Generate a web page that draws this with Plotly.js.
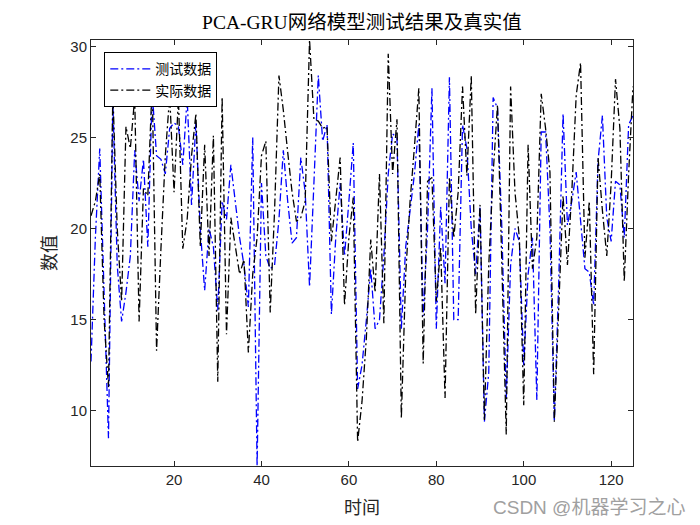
<!DOCTYPE html>
<html>
<head>
<meta charset="utf-8">
<script src="https://cdn.plot.ly/plotly-3.0.1.min.js"></script>
<style>html,body{margin:0;padding:0;background:#fff;}#chart{width:700px;height:525px;}</style>
</head>
<body>
<div id="chart"></div>
<script>
// sample index 1..125
var seriesNames = ['测试数据', '实际数据'];
var testData = [
  12.7, 19.5, 24.4, 16.0, 8.5, 27.0, 18.0, 14.9, 16.5, 18.5,
  24.3, 21.5, 23.8, 19.0, 27.5, 24.0, 23.8, 23.0, 25.5, 25.8,
  25.6, 23.5, 27.2, 21.3, 25.8, 20.0, 16.6, 20.0, 19.0, 15.5,
  21.5, 20.5, 23.5, 21.5, 19.5, 18.0, 15.7, 25.0, 6.97, 22.5,
  18.5, 17.8, 18.0, 20.5, 24.3, 21.5, 19.2, 19.5, 23.9, 22.0,
  16.8, 22.5, 28.4, 24.8, 25.7, 15.3, 19.5, 22.5, 18.5, 21.5,
  24.7, 11.2, 12.5, 15.0, 17.8, 14.5, 15.0, 18.5, 23.0, 25.2,
  25.0, 14.5, 19.0, 21.0, 23.0, 25.7, 15.2, 20.0, 27.7, 14.5,
  21.2, 17.0, 28.3, 15.0, 15.0, 25.7, 24.4, 20.0, 17.5, 21.2,
  9.4, 12.1, 27.2, 26.6, 20.0, 10.7, 18.0, 20.0, 19.3, 12.5,
  17.5, 19.5, 10.6, 25.3, 25.3, 20.0, 9.4, 17.0, 26.3, 20.2,
  21.5, 23.1, 20.5, 17.8, 17.6, 15.8, 23.7, 26.2, 20.6, 19.3,
  22.6, 22.4, 19.5, 25.7, 26.2
];
var actualData = [
  20.7, 21.5, 23.0, 15.0, 11.3, 27.5, 20.0, 16.0, 25.6, 24.4,
  27.2, 14.9, 22.2, 21.8, 28.0, 13.3, 18.9, 24.0, 27.3, 22.0,
  27.2, 18.9, 20.5, 24.0, 26.3, 19.0, 24.6, 18.5, 25.1, 11.6,
  27.2, 14.2, 20.6, 19.0, 17.5, 18.3, 13.2, 17.5, 19.5, 24.0,
  24.8, 15.4, 21.0, 28.4, 26.5, 24.2, 22.0, 20.4, 20.6, 21.5,
  30.35, 26.0, 25.9, 25.5, 25.6, 19.3, 21.5, 23.9, 15.8, 19.5,
  21.7, 8.3, 10.5, 14.0, 19.4, 16.5, 23.0, 14.8, 29.6, 23.0,
  26.0, 9.6, 17.5, 21.5, 24.5, 27.7, 12.6, 22.6, 22.8, 16.0,
  19.0, 10.7, 22.8, 19.5, 22.0, 27.8, 22.9, 28.4, 15.3, 21.3,
  9.5, 18.0, 23.0, 26.8, 18.0, 8.7, 27.8, 22.0, 19.5, 10.3,
  24.6, 17.8, 19.5, 27.4, 25.5, 23.1, 9.4, 16.0, 21.8, 18.0,
  22.0, 27.3, 29.1, 18.4, 21.5, 12.0, 23.9, 21.0, 18.5, 22.5,
  28.2, 25.5, 17.1, 23.0, 27.8
];
var xTicks = [20, 40, 60, 80, 100, 120];
var yTicks = [10, 15, 20, 25, 30];
var titleText = 'PCA-GRU网络模型测试结果及真实值';
var xLabel = '时间';
var yLabel = '数值';
var watermark = 'CSDN @机器学习之心';

var xs = testData.map(function(_, i) { return i + 1; });
var allVals = testData.concat(actualData);
var yMin = Math.min.apply(null, allVals);
var yMax = Math.max.apply(null, allVals);

var dashPat = '8px,3px,2px,3px';
var traces = [
  {x: xs, y: testData, name: seriesNames[0], type: 'scatter', mode: 'lines',
   line: {color: '#0000ff', width: 1.3, dash: dashPat}},
  {x: xs, y: actualData, name: seriesNames[1], type: 'scatter', mode: 'lines',
   line: {color: '#000000', width: 1.3, dash: dashPat}}
];

var cjk = '"Liberation Serif", "Noto Sans CJK SC", serif';
var axisCommon = {
  showline: true, mirror: 'ticks', linecolor: '#262626', linewidth: 1,
  ticks: 'inside', ticklen: 5, tickwidth: 1, tickcolor: '#262626',
  showgrid: false, zeroline: false,
  tickfont: {family: '"Liberation Sans", Arial, sans-serif', size: 15, color: '#262626'}
};

var layout = {
  width: 700, height: 525,
  paper_bgcolor: '#ffffff', plot_bgcolor: '#ffffff',
  margin: {l: 91, r: 67, t: 40, b: 59, pad: 0},
  title: {text: titleText, font: {family: cjk, size: 19.5, color: '#000000'},
          x: 0.517, xanchor: 'center', y: 0.958, yanchor: 'middle'},
  xaxis: Object.assign({}, axisCommon, {
    range: [1, 125], tickvals: xTicks, ticktext: xTicks.map(String),
    title: {text: xLabel, font: {family: '"Noto Sans CJK SC", sans-serif', size: 18, color: '#262626'}, standoff: 14}
  }),
  yaxis: Object.assign({}, axisCommon, {
    range: [yMin, yMax], tickvals: yTicks, ticktext: yTicks.map(String),
    title: {text: yLabel, font: {family: '"Noto Sans CJK SC", sans-serif', size: 18, color: '#262626'}, standoff: 9}
  }),
  showlegend: true,
  legend: {x: 0.0245, y: 0.971, xanchor: 'left', yanchor: 'top',
           bgcolor: '#ffffff', bordercolor: '#000000', borderwidth: 1,
           font: {family: '"Noto Sans CJK SC", sans-serif', size: 14, color: '#000000'},
           tracegroupgap: 0, itemwidth: 40},
  annotations: [{
    text: watermark, xref: 'paper', yref: 'paper', x: 1.1, y: -0.097,
    xanchor: 'right', yanchor: 'middle', showarrow: false,
    font: {family: '"Liberation Sans", "Noto Sans CJK SC", sans-serif', size: 19, color: '#a0a0a0'}
  }]
};

Plotly.newPlot('chart', traces, layout, {displayModeBar: false, staticPlot: true});
</script>
</body>
</html>
